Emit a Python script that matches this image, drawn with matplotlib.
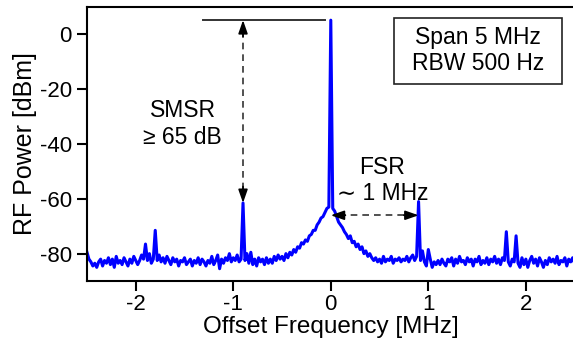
#!/usr/bin/env python3
# coding: utf-8

import matplotlib
matplotlib.use('Agg')
import matplotlib.pyplot as plt
from matplotlib.patches import Rectangle
import numpy as np

plt.rcParams['font.family'] = ['Liberation Sans', 'DejaVu Sans']
plt.rcParams['axes.unicode_minus'] = False

# RF spectrum, 5 MHz span, sampled every 20 kHz
power = [
    -79.5, -82.0, -83.0, -84.5, -83.5, -85.0, -83.0, -82.0, -84.5, -82.5,
    -83.5, -81.5, -84.0, -82.0, -85.0, -81.0, -83.5, -82.5, -84.0, -81.5,
    -83.0, -84.5, -82.0, -83.5, -81.0, -82.5, -84.0, -82.5, -80.5, -82.0,
    -76.5, -82.5, -80.0, -83.5, -82.0, -71.5, -82.5, -80.5, -83.0, -81.5,
    -83.5, -81.0, -82.5, -84.0, -81.5, -83.0, -82.0, -84.5, -82.5, -83.0,
    -81.5, -84.0, -83.0, -82.0, -84.5, -82.5, -83.5, -81.5, -84.0, -82.0,
    -83.0, -84.5, -82.5, -83.5, -81.0, -84.0, -82.5, -80.5, -85.5, -82.0,
    -83.5, -81.5, -82.5, -80.0, -83.0, -81.5, -82.5, -80.5, -83.0, -82.0,
    -61.5, -82.5, -80.0, -83.5, -79.5, -84.0, -82.0, -84.5, -81.5, -83.0,
    -82.0, -84.0, -81.5, -83.5, -82.0, -83.5, -81.0, -82.5, -80.5, -82.0,
    -81.0, -82.5, -80.0, -81.5, -79.5, -80.5, -78.5, -79.5, -77.5, -78.0,
    -76.0, -76.5, -75.0, -75.5, -73.5, -73.0, -71.5, -71.5, -69.5, -68.5,
    -67.0, -66.5, -65.0, -63.5, -63.0, 5.2, -63.5, -64.5, -66.5, -68.5,
    -69.5, -70.5, -72.0, -73.0, -74.5, -73.5, -76.0, -75.5, -77.5, -76.5,
    -78.5, -77.5, -80.0, -79.0, -81.0, -80.0, -81.5, -82.5, -81.5, -83.0,
    -82.0, -83.5, -81.0, -83.0, -82.0, -82.5, -81.0, -83.5, -82.0, -82.5,
    -81.5, -83.0, -82.0, -82.5, -81.0, -83.0, -81.5, -80.5, -82.5, -81.0,
    -61.0, -82.5, -79.0, -83.0, -84.5, -78.5, -82.0, -85.0, -83.0, -84.0,
    -82.5, -84.0, -82.0, -83.5, -84.5, -82.0, -83.0, -81.5, -84.5, -82.0,
    -83.5, -81.0, -83.0, -82.5, -84.0, -81.5, -83.0, -82.0, -84.5, -82.0,
    -83.0, -81.0, -84.0, -82.5, -83.5, -81.5, -84.0, -82.0, -83.0, -81.0,
    -83.5, -82.0, -84.0, -81.5, -82.5, -72.0, -83.0, -84.5, -82.0, -83.0,
    -73.5, -83.5, -85.0, -81.5, -84.0, -82.0, -85.0, -82.5, -81.0, -83.5,
    -82.0, -84.5, -81.5, -83.0, -85.0, -82.5, -84.0, -81.5, -83.0, -82.0,
    -83.5, -81.0, -84.0, -82.5, -83.0, -81.5, -84.5, -82.0, -83.0, -81.5,
    -83.5,
]
span = (-2.5, 2.5)
freq = np.linspace(span[0], span[1], len(power))

xticks = [-2, -1, 0, 1, 2]
yticks = [-80, -60, -40, -20, 0]

carrier = max(power)
side_freq = 0.9
side_level = -61.5
fsr_level = -66


def arrow_head(ax, tip, tail):
    ax.annotate('', xy=tip, xytext=tail,
                arrowprops=dict(arrowstyle='-|>,head_length=0.8,head_width=0.28',
                                color='k', lw=1.2, shrinkA=0, shrinkB=0))


def main():
    fig = plt.figure(figsize=(5.73, 3.5), dpi=100)
    ax = fig.add_axes([0.1518, 0.197, 0.851, 0.783])

    ax.plot(freq, power, color='#0000ff', lw=2.2)

    ax.set_xlim(*span)
    ax.set_ylim(-90, 10)
    ax.set_xticks(xticks)
    ax.set_yticks(yticks)
    ax.tick_params(labelsize=16, width=1.5, length=7, direction='out', pad=4)
    ax.tick_params(axis='x', pad=2)
    for s in ax.spines.values():
        s.set_linewidth(1.5)

    ax.set_xlabel('Offset Frequency [MHz]', fontsize=17.5, labelpad=1)
    ax.set_ylabel('RF Power [dBm]', fontsize=18, labelpad=2)

    # carrier level reference line
    ax.plot([-1.31, -0.06], [carrier, carrier], color='#333333', lw=1.4)

    # SMSR arrow
    ax.plot([-side_freq, -side_freq], [carrier - 4, side_level + 4],
            color='#333333', lw=1.2, ls=(0, (4, 3)))
    arrow_head(ax, (-side_freq, carrier), (-side_freq, carrier - 6))
    arrow_head(ax, (-side_freq, side_level), (-side_freq, side_level + 6))
    ax.text(-1.52, -27.8, 'SMSR', fontsize=16.5, ha='center', va='center')
    ax.text(-1.52, -37.6, '≥ 65 dB', fontsize=16.5, ha='center', va='center')

    # FSR arrow
    ax.plot([0.08, side_freq - 0.08], [fsr_level, fsr_level],
            color='#333333', lw=1.2, ls=(0, (4, 3)))
    arrow_head(ax, (0.0, fsr_level), (0.15, fsr_level))
    arrow_head(ax, (side_freq, fsr_level), (side_freq - 0.15, fsr_level))
    ax.text(0.53, -48.4, 'FSR', fontsize=16.5, ha='center', va='center')
    ax.text(0.53, -58.0, '∼ 1 MHz', fontsize=16.5, ha='center', va='center')

    # settings box
    ax.add_patch(Rectangle((0.65, -18.0), 1.72, 23.9, fc='white',
                           ec='#222222', lw=1.2, zorder=3))
    ax.text(1.51, -6.0, 'Span 5 MHz\nRBW 500 Hz', fontsize=16.5,
            ha='center', va='center', linespacing=1.15, zorder=4)

    fig.savefig('out.png', dpi=100)


if __name__ == '__main__':
    main()
